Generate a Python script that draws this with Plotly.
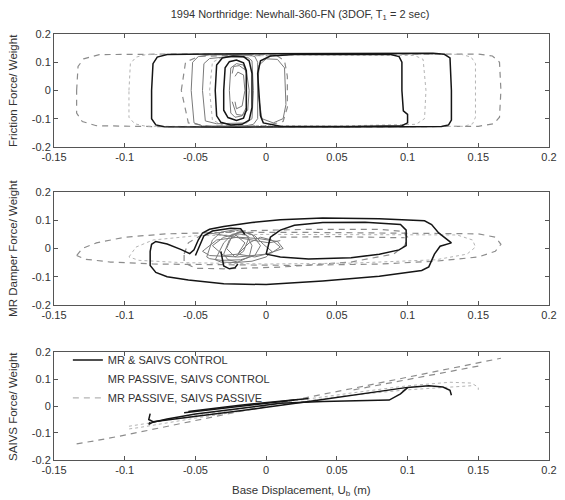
import plotly.graph_objects as go
from plotly.subplots import make_subplots

# ---------------- DATA ----------------
x_ticks = [-0.15, -0.1, -0.05, 0, 0.05, 0.1, 0.15, 0.2]
y_ticks = [-0.2, -0.1, 0, 0.1, 0.2]
series_names = ["MR & SAIVS CONTROL", "MR PASSIVE, SAIVS CONTROL", "MR PASSIVE, SAIVS PASSIVE"]

# Top panel: friction force / weight
fric_ctrl_x = [-0.081, -0.080, -0.077, -0.070, -0.040, 0.000, 0.060, 0.118, 0.126, 0.130, 0.131, 0.131, 0.129, 0.124, 0.100, 0.040, -0.020, -0.072, -0.078, -0.081, -0.081, None,
               -0.004, -0.006, -0.004, 0.003, 0.020, 0.060, 0.088, 0.094, 0.096, 0.096, 0.097, 0.100, 0.100, 0.096, 0.060, 0.010, -0.002, -0.004, None,
               -0.036, -0.035, -0.031, -0.024, -0.016, -0.012, -0.010, -0.010, -0.012, -0.017, -0.025, -0.032, -0.035, -0.036, None,
               -0.030, -0.029, -0.026, -0.021, -0.016, -0.014, -0.014, -0.016, -0.021, -0.027, -0.030, -0.030]
fric_ctrl_y = [0.000, 0.095, 0.118, 0.127, 0.129, 0.130, 0.131, 0.132, 0.128, 0.115, 0.000, -0.105, -0.122, -0.128, -0.129, -0.130, -0.130, -0.129, -0.122, -0.100, 0.000, None,
               -0.090, 0.060, 0.105, 0.122, 0.127, 0.128, 0.127, 0.120, 0.100, 0.000, -0.072, -0.085, -0.115, -0.125, -0.128, -0.127, -0.115, -0.090, None,
               0.000, 0.090, 0.115, 0.122, 0.120, 0.105, 0.060, -0.060, -0.105, -0.120, -0.122, -0.113, -0.090, 0.000, None,
               0.000, 0.080, 0.102, 0.108, 0.098, 0.070, -0.070, -0.098, -0.106, -0.096, -0.070, 0.000]
fric_mid_x = [-0.053, -0.052, -0.048, -0.040, -0.012, -0.008, -0.006, -0.006, -0.009, -0.015, -0.045, -0.051, -0.053, None,
              -0.045, -0.044, -0.040, -0.030, -0.013, -0.010, -0.009, -0.010, -0.014, -0.035, -0.043, -0.045, None,
              -0.026, -0.025, -0.021, -0.016, -0.014, -0.014, -0.017, -0.022, -0.025, -0.026, None,
              -0.024, -0.023, -0.019, -0.014, -0.012, -0.013, -0.017, -0.021, -0.024, None,
              -0.022, -0.020, -0.016, -0.015, -0.017, -0.021, -0.022, None,
              -0.006, -0.005, 0.000, 0.008, 0.013, 0.014, 0.012, 0.005, -0.003, -0.006]
fric_mid_y = [0.000, 0.100, 0.120, 0.126, 0.126, 0.120, 0.100, -0.100, -0.120, -0.126, -0.126, -0.115, 0.000, None,
              0.000, 0.095, 0.113, 0.118, 0.117, 0.105, 0.000, -0.100, -0.115, -0.118, -0.108, 0.000, None,
              0.000, 0.080, 0.095, 0.090, 0.060, -0.060, -0.090, -0.095, -0.080, 0.000, None,
              0.060, 0.085, 0.088, 0.070, 0.000, -0.070, -0.088, -0.085, -0.040, None,
              0.050, 0.065, 0.055, 0.000, -0.055, -0.065, -0.040, None,
              0.000, 0.090, 0.112, 0.110, 0.080, -0.050, -0.100, -0.115, -0.100, 0.000]
fric_semi_x = [-0.097, -0.096, -0.092, -0.085, -0.040, 0.050, 0.138, 0.145, 0.148, 0.148, 0.146, 0.140, 0.080, 0.000, -0.085, -0.093, -0.097, -0.097, None,
               -0.040, -0.038, -0.030, 0.020, 0.105, 0.111, 0.113, 0.112, 0.106, 0.050, -0.030, -0.038, -0.040]
fric_semi_y = [0.000, 0.095, 0.118, 0.127, 0.129, 0.130, 0.128, 0.118, 0.095, -0.095, -0.118, -0.127, -0.129, -0.129, -0.127, -0.118, -0.095, 0.000, None,
               0.000, 0.100, 0.120, 0.126, 0.124, 0.110, 0.000, -0.100, -0.120, -0.126, -0.124, -0.105, 0.000]
fric_pass_x = [-0.134, -0.133, -0.129, -0.118, -0.060, 0.020, 0.100, 0.150, 0.160, 0.165, 0.166, 0.165, 0.161, 0.150, 0.080, 0.000, -0.080, -0.120, -0.130, -0.134, -0.134, None,
               -0.060, -0.057, -0.048, -0.020, 0.008, 0.013, 0.015, 0.015, 0.012, 0.000, -0.040, -0.055, -0.060]
fric_pass_y = [0.000, 0.085, 0.112, 0.127, 0.129, 0.130, 0.130, 0.129, 0.122, 0.100, 0.000, -0.095, -0.118, -0.127, -0.129, -0.129, -0.128, -0.125, -0.110, -0.080, 0.000, None,
               0.000, 0.100, 0.120, 0.126, 0.122, 0.105, 0.050, -0.060, -0.110, -0.125, -0.127, -0.115, 0.000]

# Middle panel: MR damper force / weight
mr_ctrl_x = [-0.082, -0.081, -0.078, -0.070, -0.060, -0.054, -0.051, -0.048, -0.045, -0.040, -0.030, -0.010, 0.010, 0.040, 0.080, 0.112, 0.117, 0.122, 0.131, 0.123, 0.119, 0.115, 0.110, 0.080, 0.040, 0.000, -0.030, -0.055, -0.070, -0.078, -0.082, -0.082, None,
             0.000, 0.003, 0.010, 0.020, 0.040, 0.070, 0.095, 0.099, 0.099, 0.094, 0.080, 0.060, 0.030, 0.010, 0.000, None,
             -0.050, -0.047, -0.044, -0.038, -0.025, -0.018, -0.015, None,
             -0.032, -0.031, -0.030, -0.026, -0.022, -0.020]
mr_ctrl_y = [-0.010, 0.015, 0.025, 0.016, -0.004, -0.018, -0.005, 0.030, 0.055, 0.068, 0.078, 0.092, 0.102, 0.108, 0.105, 0.098, 0.085, 0.055, 0.020, 0.008, -0.020, -0.065, -0.078, -0.098, -0.115, -0.128, -0.125, -0.112, -0.100, -0.085, -0.060, -0.010, None,
             -0.020, 0.040, 0.065, 0.082, 0.092, 0.093, 0.085, 0.065, 0.010, -0.005, -0.020, -0.033, -0.037, -0.030, -0.020, None,
             -0.025, 0.010, 0.045, 0.062, 0.072, 0.070, 0.050, None,
             -0.010, -0.040, -0.062, -0.072, -0.068, -0.055]
mr_mid_x = [-0.042, -0.038, -0.032, -0.022, -0.010, -0.004, -0.008, -0.018, -0.032, -0.040, -0.042, None,
            -0.036, -0.030, -0.024, -0.016, -0.008, -0.002, 0.004, 0.000, -0.010, -0.022, -0.032, -0.036, None,
            -0.030, -0.026, -0.020, -0.014, -0.010, -0.012, -0.020, -0.027, -0.030, None,
            -0.045, -0.035, -0.020, -0.005, 0.008, 0.012, 0.000, -0.020, -0.040, -0.045, None,
            -0.040, -0.028, -0.012, 0.002, 0.010, None,
            -0.028, -0.024, -0.018, -0.012, -0.016, -0.022, -0.028, None,
            -0.020, -0.012, -0.004, 0.004, 0.010, 0.004, -0.008, -0.020, None,
            -0.038, -0.030, -0.022, -0.015, -0.020, -0.030, -0.038]
mr_mid_y = [-0.030, 0.030, 0.058, 0.066, 0.050, 0.010, -0.025, -0.040, -0.042, -0.036, -0.030, None,
            -0.040, 0.020, 0.050, 0.060, 0.045, 0.015, -0.010, -0.030, -0.045, -0.050, -0.048, -0.040, None,
            -0.020, 0.030, 0.052, 0.048, 0.010, -0.030, -0.048, -0.040, -0.020, None,
            -0.010, 0.030, 0.040, 0.035, 0.025, 0.000, -0.020, -0.030, -0.025, -0.010, None,
            0.055, 0.045, 0.030, 0.020, 0.028, None,
            0.000, 0.045, 0.060, 0.040, -0.010, -0.030, 0.000, None,
            -0.020, 0.020, 0.040, 0.030, 0.005, -0.015, -0.030, -0.020, None,
            0.010, 0.040, 0.050, 0.020, -0.020, -0.025, 0.010]
mr_semi_x = [-0.097, -0.092, -0.080, -0.050, 0.000, 0.080, 0.135, 0.146, 0.148, 0.142, 0.120, 0.060, 0.000, -0.060, -0.090, -0.097]
mr_semi_y = [-0.030, 0.005, 0.030, 0.045, 0.050, 0.050, 0.048, 0.030, 0.005, -0.020, -0.040, -0.052, -0.055, -0.050, -0.042, -0.030]
mr_pass_x = [-0.134, -0.130, -0.120, -0.100, -0.070, -0.030, 0.030, 0.100, 0.150, 0.162, 0.166, 0.162, 0.150, 0.120, 0.080, 0.020, -0.040, -0.080, -0.110, -0.128, -0.134, None,
             -0.058, -0.055, -0.045, -0.020, 0.030, 0.080, 0.097, 0.100, 0.098, 0.090, 0.060, 0.010, -0.030, -0.050, -0.058, -0.058, None,
             0.010, 0.050, 0.098]
mr_pass_y = [-0.025, 0.000, 0.020, 0.040, 0.052, 0.057, 0.057, 0.055, 0.052, 0.040, 0.015, -0.010, -0.030, -0.045, -0.055, -0.060, -0.058, -0.055, -0.048, -0.038, -0.025, None,
             -0.020, 0.020, 0.050, 0.062, 0.068, 0.068, 0.060, 0.040, 0.010, -0.020, -0.048, -0.066, -0.072, -0.070, -0.050, -0.020, None,
             0.040, 0.042, 0.038]

# Bottom panel: SAIVS force / weight
sv_ctrl_x = [-0.082, -0.083, -0.080, -0.060, -0.030, 0.000, 0.030, 0.060, 0.090, 0.100, 0.115, 0.125, 0.130, 0.131, None,
             0.100, 0.095, 0.087, 0.070, 0.040, 0.010, -0.020, -0.050, -0.070, -0.080, -0.083, -0.082, None,
             -0.058, -0.030, 0.000, 0.020, None,
             -0.055, -0.020, 0.010, 0.030]
sv_ctrl_y = [-0.028, -0.050, -0.058, -0.045, -0.025, -0.005, 0.017, 0.040, 0.062, 0.069, 0.075, 0.070, 0.058, 0.040, None,
             0.068, 0.045, 0.022, 0.020, 0.017, 0.010, -0.010, -0.030, -0.048, -0.060, -0.068, -0.060, None,
             -0.025, -0.008, 0.010, 0.022, None,
             -0.020, 0.002, 0.018, 0.028]
sv_semi_x = [-0.097, -0.060, 0.000, 0.060, 0.100, 0.130, 0.145, 0.150, 0.150, None,
             0.145, 0.100, 0.050, 0.000, -0.050, -0.090, -0.097]
sv_semi_y = [-0.075, -0.045, 0.005, 0.048, 0.075, 0.088, 0.085, 0.070, 0.060, None,
             0.075, 0.060, 0.035, -0.005, -0.045, -0.080, -0.085]
sv_pass_x = [-0.134, -0.120, -0.100, -0.080, -0.050, -0.020, 0.000, 0.030, 0.060, 0.090, 0.120, 0.150, 0.166, None,
             0.150, 0.120, 0.090, 0.060]
sv_pass_y = [-0.140, -0.128, -0.108, -0.086, -0.053, -0.020, 0.002, 0.033, 0.064, 0.096, 0.128, 0.160, 0.177, None,
             0.148, 0.118, 0.088, 0.058]

# ---------------- STYLES ----------------
C_BLACK = "#151515"
C_MID = "#7a7a7a"
C_LIGHT = "#b4b4b4"
C_DASH = "#8c8c8c"
TXT = "#333333"
FONT = "Liberation Sans, Arial, sans-serif"

fig = make_subplots(rows=3, cols=1, shared_xaxes=False, vertical_spacing=0.0)

panels = [
    (1, fric_ctrl_x, fric_ctrl_y, fric_mid_x, fric_mid_y, fric_semi_x, fric_semi_y, fric_pass_x, fric_pass_y),
    (2, mr_ctrl_x, mr_ctrl_y, mr_mid_x, mr_mid_y, mr_semi_x, mr_semi_y, mr_pass_x, mr_pass_y),
    (3, sv_ctrl_x, sv_ctrl_y, None, None, sv_semi_x, sv_semi_y, sv_pass_x, sv_pass_y),
]

for row, cx, cy, mx, my, sx, sy, px, py in panels:
    fig.add_trace(go.Scatter(x=px, y=py, mode="lines", name=series_names[2], legendgroup="s3",
                             showlegend=False, line=dict(color=C_DASH, width=1.2, dash="6px,5px")), row=row, col=1)
    fig.add_trace(go.Scatter(x=sx, y=sy, mode="lines", name=series_names[1], legendgroup="s2",
                             showlegend=False, line=dict(color=C_LIGHT, width=1, dash="dot")), row=row, col=1)
    if mx is not None:
        fig.add_trace(go.Scatter(x=mx, y=my, mode="lines", name=series_names[1], legendgroup="s2",
                                 showlegend=False, line=dict(color=C_MID, width=1)), row=row, col=1)
    fig.add_trace(go.Scatter(x=cx, y=cy, mode="lines", name=series_names[0], legendgroup="s1",
                             showlegend=False, line=dict(color=C_BLACK, width=1.5)), row=row, col=1)

# legend-only entries (order as in reference)
fig.add_trace(go.Scatter(x=[None], y=[None], mode="lines", name=series_names[0], legendgroup="s1",
                         line=dict(color=C_BLACK, width=1.5)), row=3, col=1)
fig.add_trace(go.Scatter(x=[None], y=[None], mode="lines", name=series_names[1], legendgroup="s2",
                         line=dict(color="rgba(255,255,255,0)", width=1)), row=3, col=1)
fig.add_trace(go.Scatter(x=[None], y=[None], mode="lines", name=series_names[2], legendgroup="s3",
                         line=dict(color=C_LIGHT, width=1.2, dash="6px,5px")), row=3, col=1)

domains = [[0.735, 1.0], [0.364, 0.629], [0.0, 0.2535]]
for i, dom in enumerate(domains, start=1):
    fig.update_xaxes(row=i, col=1, range=[-0.15, 0.2], tickvals=x_ticks,
                     ticktext=[("%g" % v) for v in x_ticks],
                     showgrid=False, zeroline=False, showline=True, linecolor="#555", linewidth=1,
                     mirror="ticks", ticks="inside", ticklen=4, tickcolor="#555",
                     tickfont=dict(family=FONT, size=11, color=TXT))
    fig.update_yaxes(row=i, col=1, range=[-0.2, 0.2], domain=dom, tickvals=y_ticks,
                     ticktext=[("%g" % v) for v in y_ticks],
                     showgrid=False, zeroline=False, showline=True, linecolor="#555", linewidth=1,
                     mirror="ticks", ticks="inside", ticklen=4, tickcolor="#555",
                     tickfont=dict(family=FONT, size=11, color=TXT))

ytitles = ["Friction Force/ Weight", "MR Damper Force/ Weight", "SAIVS Force/ Weight"]
ycent = [0.8685, 0.4977, 0.1268]
annotations = []
for t, yc in zip(ytitles, ycent):
    annotations.append(dict(text=t, xref="paper", yref="paper", x=-0.083, y=yc, textangle=-90,
                            showarrow=False, xanchor="center", yanchor="middle",
                            font=dict(family=FONT, size=11.5, color=TXT)))
annotations.append(dict(text="Base Displacement, U<sub>b</sub> (m)", xref="paper", yref="paper",
                        x=0.5, y=-0.072, showarrow=False, xanchor="center", yanchor="middle",
                        font=dict(family=FONT, size=11.5, color=TXT)))

fig.update_layout(
    width=565, height=500,
    margin=dict(l=54, r=8, t=34, b=40),
    paper_bgcolor="white", plot_bgcolor="white",
    title=dict(text="1994 Northridge: Newhall-360-FN (3DOF, T<sub>1</sub> = 2 sec)",
               x=0.531, xanchor="center", y=0.972, yanchor="middle",
               font=dict(family=FONT, size=11, color=TXT)),
    annotations=annotations,
    showlegend=True,
    legend=dict(x=0.028, y=0.269, xanchor="left", yanchor="top", bgcolor="rgba(0,0,0,0)",
                font=dict(family=FONT, size=11, color=TXT), tracegroupgap=0,
                itemclick=False),
)

fig.write_html("out.html")
